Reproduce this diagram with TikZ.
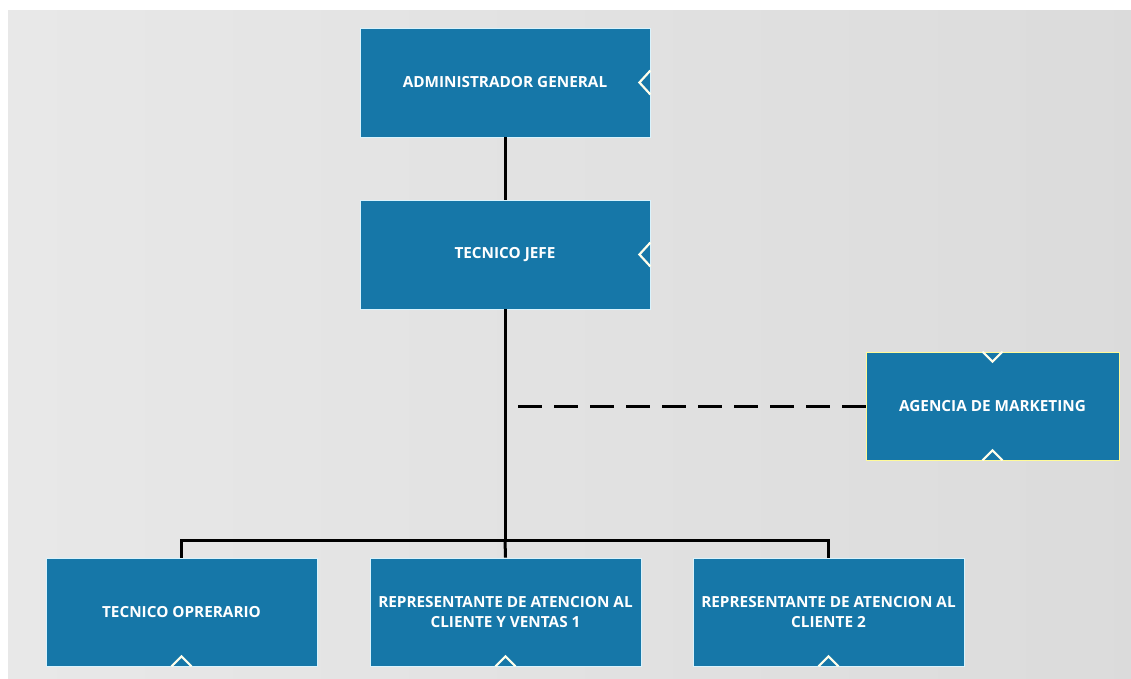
\documentclass[tikz,border=0pt]{standalone}
\usepackage{fontspec}
\setmainfont{Open Sans}
\begin{document}
\begin{tikzpicture}[x=1pt,y=-1pt,
  orgbox/.style={draw=white!85!cyan, line width=0.8pt, fill=boxblue, text=white,
    font=\bfseries\fontsize{15.3}{20}\selectfont, align=center, inner sep=0pt},
  conn/.style={line width=3pt, black},
  notch/.style={draw=white!92!yellow, line width=2.2pt, line join=miter},
]
\definecolor{boxblue}{HTML}{1677A8}
\useasboundingbox (0,0) rectangle (1131,679);
\fill[white] (0,0) rectangle (1131,679);
\shade[left color=black!9, right color=black!14] (8,11) rectangle (1131,679);

\node[orgbox, minimum width=290pt, minimum height=109pt] (admin) at (505,82.5) {ADMINISTRADOR GENERAL};
\node[orgbox, minimum width=290pt, minimum height=109pt] (jefe) at (505,254.5) {TECNICO JEFE};
\node[orgbox, draw=yellow!40!white, minimum width=253pt, minimum height=108pt] (agencia) at (992.5,406) {AGENCIA DE MARKETING};
\node[orgbox, minimum width=271pt, minimum height=108pt] (oper) at (181.5,612) {TECNICO OPRERARIO};
\node[orgbox, minimum width=271pt, minimum height=108pt] (rep1) at (505.5,612) {REPRESENTANTE DE ATENCION AL\\CLIENTE Y VENTAS 1};
\node[orgbox, minimum width=271pt, minimum height=108pt] (rep2) at (828.5,612) {REPRESENTANTE DE ATENCION AL\\CLIENTE 2};

% notches
\draw[notch] ([yshift=12pt]admin.east) -- ++(-11,12) -- ++(11,12);
\draw[notch] ([yshift=12pt]jefe.east) -- ++(-11,12) -- ++(11,12);
\draw[notch] ([xshift=-10pt]agencia.north) -- ++(10,10) -- ++(10,-10);
\draw[notch] ([xshift=-10pt]agencia.south) -- ++(10,-10) -- ++(10,10);
\draw[notch] ([xshift=-10pt]oper.south) -- ++(10,-10) -- ++(10,10);
\draw[notch] ([xshift=-10pt]rep1.south) -- ++(10,-10) -- ++(10,10);
\draw[notch] ([xshift=-10pt]rep2.south) -- ++(10,-10) -- ++(10,10);

% connectors
\coordinate (bus) at (505,540);
\coordinate (dashend) at (517,406);
\draw[conn] (admin.south) -- (jefe.south |- jefe.north);
\draw[conn] (jefe.south) -- (bus);
\draw[conn] (oper.north) -- (oper.north |- bus) -- (rep2.north |- bus) -- (rep2.north);
\draw[conn] (bus) -- (rep1.north);
\draw[conn, dash pattern=on 24pt off 12pt] (agencia.west) -- (dashend);
\end{tikzpicture}
\end{document}
